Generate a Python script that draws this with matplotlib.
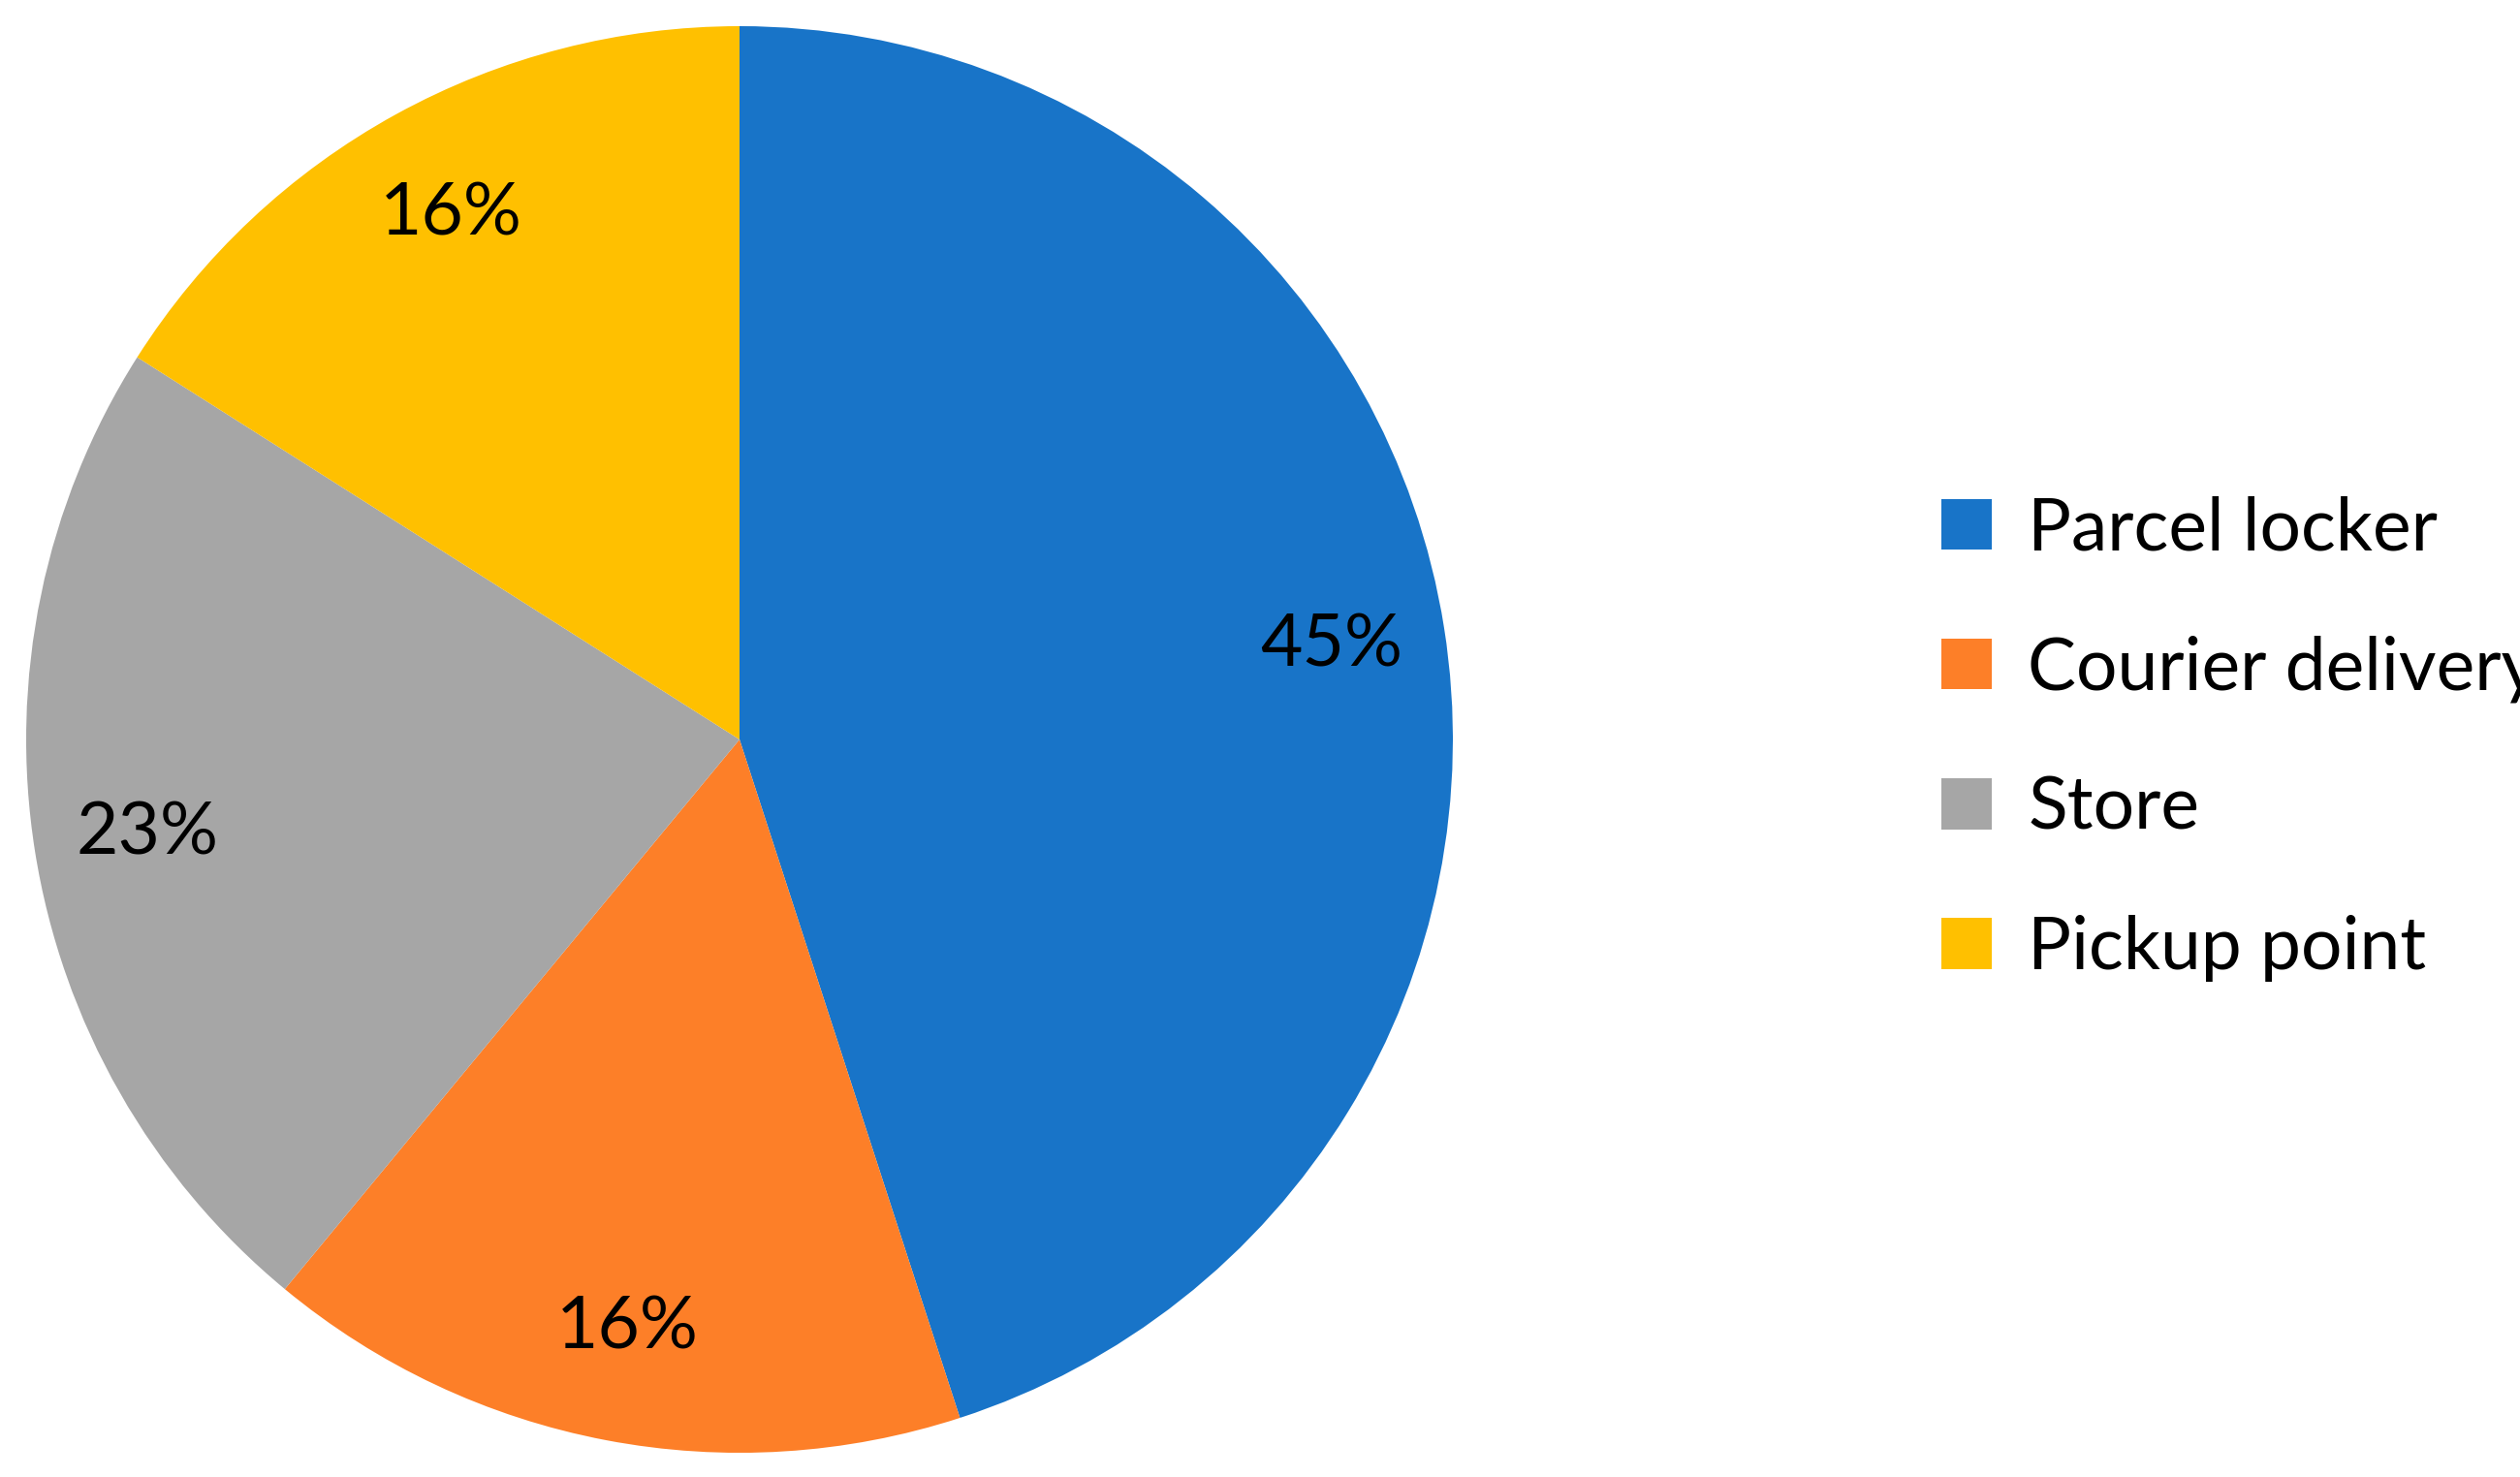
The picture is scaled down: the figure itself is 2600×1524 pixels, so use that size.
import matplotlib.pyplot as plt

labels = ["Parcel locker", "Courier delivery", "Store", "Pickup point"]
shares = [45, 16, 23, 16]
colors = ["#1874C8", "#FD7F28", "#A6A6A6", "#FFC000"]

plt.rcParams['font.family'] = ['Lato', 'DejaVu Sans']

fig = plt.figure(figsize=(13, 7.62), dpi=200)
W, H = 2600, 1524
cx, cy, r = 763, 763, 736
ax = fig.add_axes([(cx - r) / W, (H - cy - r) / H, 2 * r / W, 2 * r / H])
wedges, texts, autotexts = ax.pie(shares, colors=colors, startangle=90, counterclock=False,
                                  autopct="%d%%", pctdistance=0.84, radius=1,
                                  textprops={'fontsize': 27, 'color': 'black'})
ax.set_xlim(-1, 1)
ax.set_ylim(-1, 1)
ax.set_aspect('equal')

fig.legend(wedges, labels, loc='center left', bbox_to_anchor=(1935 / W, 0.5), frameon=False,
           fontsize=27, handlelength=0.7, handleheight=0.7, labelspacing=1.0, handletextpad=0.5)
fig.savefig("out.png")
